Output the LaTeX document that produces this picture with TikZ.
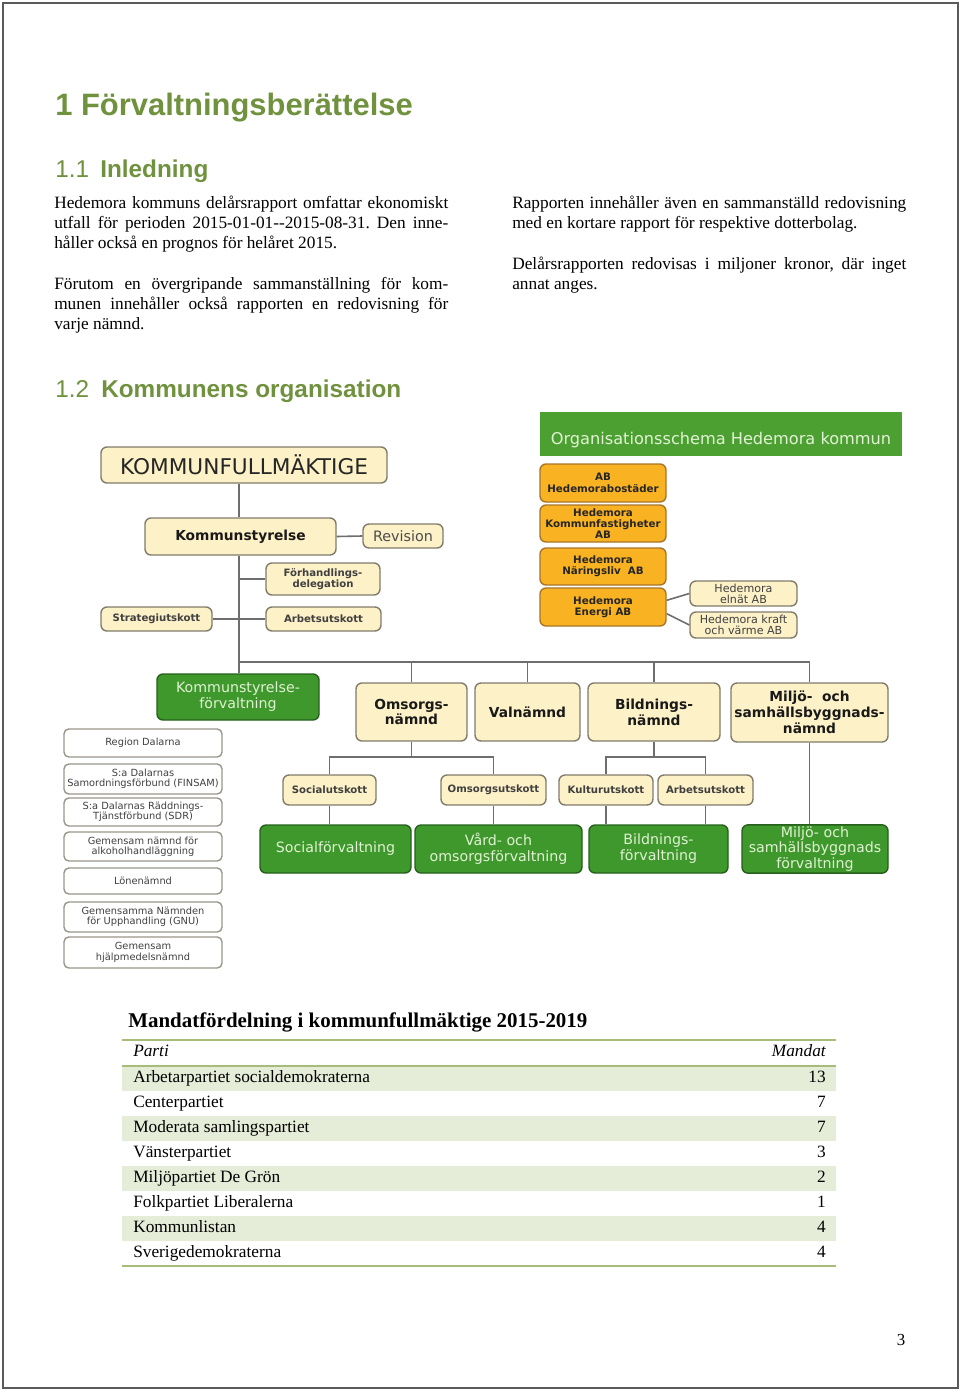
\documentclass[tikz,border=0pt]{standalone}
\usepackage{fontspec}
\setmainfont{Liberation Serif}
\newfontfamily\headfont{Liberation Sans}
\newfontfamily\orgfont{DejaVu Sans}
\usetikzlibrary{positioning}
\newcommand{\setfs}[2]{\fontsize{#1}{#2}\selectfont}
\frenchspacing

\definecolor{headgreen}{RGB}{112,146,62}
\definecolor{creamfill}{RGB}{253,241,199}
\definecolor{creamline}{RGB}{128,124,108}
\definecolor{boxgreen}{RGB}{62,152,44}
\definecolor{boxgreenline}{RGB}{38,96,28}
\definecolor{palegreen}{RGB}{226,242,212}
\definecolor{bargreen}{RGB}{76,160,50}
\definecolor{orgorange}{RGB}{249,178,34}
\definecolor{orgline}{RGB}{168,118,40}
\definecolor{conncol}{RGB}{110,110,110}
\definecolor{rulegreen}{RGB}{168,188,122}
\definecolor{rowshade}{RGB}{229,236,216}
\definecolor{pageline}{RGB}{90,90,90}

\tikzset{sz/.style 2 args={minimum width=#1*0.25mm, minimum height=#2*0.25mm}}

\begin{document}
\begin{tikzpicture}[x=0.25mm, y=-0.25mm,
  body/.style={anchor=base west, inner sep=0pt, text width=98.5mm,
    align=justify, font=\setfs{12.3}{14.43}},
  heading/.style={anchor=base west, inner sep=0pt, text=headgreen},
  cream/.style={draw=creamline, fill=creamfill, line width=0.35mm,
    rounded corners=1.5mm, align=center, inner sep=1pt},
  nbox/.style={cream, font=\orgfont\bfseries\setfs{9.8}{11.2}, text=black!90},
  ubox/.style={cream, font=\orgfont\bfseries\setfs{7.2}{8.2}, text=black!75},
  gbox/.style={draw=boxgreenline, fill=boxgreen, line width=0.35mm,
    rounded corners=1.5mm, align=center, inner sep=1pt, text=palegreen,
    font=\orgfont\setfs{10.1}{11.3}},
  wbox/.style={draw=creamline!80, fill=white, line width=0.35mm,
    rounded corners=1.2mm, align=center, inner sep=0pt, text=black!75,
    font=\orgfont\setfs{7}{7.4}},
  obox/.style={draw=orgline, fill=orgorange, line width=0.35mm,
    rounded corners=1.5mm, align=center, inner sep=0pt, text=black!85,
    font=\orgfont\bfseries\setfs{7.3}{8.1}},
  bar/.style={fill=bargreen, inner sep=0pt, text=palegreen,
    text height=18pt, text depth=2.5pt, font=\orgfont\setfs{11.5}{13}},
  conn/.style={draw=conncol, line width=0.4mm},
  tabrule/.style={draw=rulegreen, line width=0.5mm},
  cell/.style={anchor=base west, inner sep=0pt, font=\setfs{12.3}{14}},
  seats/.style={anchor=base east, inner sep=0pt, font=\setfs{12.3}{14}}]
\useasboundingbox (0,0) rectangle (960,1390);
\fill[white] (0,0) rectangle (960,1390);
\draw[pageline, line width=0.5mm] (3,3) rectangle (957.5,1388);

% headings and text
\node[heading, font=\headfont\bfseries\setfs{22}{26}] (h1) at (55,115)
  {1 Förvaltningsberättelse};
\node[heading, font=\headfont\setfs{17.3}{20}] (h11no) at (55,177) {1.1};
\node[heading, font=\headfont\bfseries\setfs{17.3}{20}] (h11) at (100,177)
  {Inledning};
\node[body] (introa) at (54,208)
  {Hedemora kommuns delårsrapport omfattar ekonomiskt\linebreak
  utfall för perioden 2015-01-01-{}-2015-08-31. Den inne-\linebreak
  håller också en prognos för helåret 2015.};
\node[body] (introb) at (54,289)
  {Förutom en övergripande sammanställning för kom-\linebreak
  munen innehåller också rapporten en redovisning för\linebreak
  varje nämnd.};
\node[body] (introc) at (512,208)
  {Rapporten innehåller även en sammanställd redovisning\linebreak
  med en kortare rapport för respektive dotterbolag.};
\node[body] (introd) at (512,269)
  {Delårsrapporten redovisas i miljoner kronor, där inget\linebreak
  annat anges.};
\node[heading, font=\headfont\setfs{17.3}{20}] (h12no) at (55,397) {1.2};
\node[heading, font=\headfont\bfseries\setfs{17.3}{20}] (h12) at (101,397)
  {Kommunens organisation};

% organisation chart
\node[bar, sz={362}{44}] (orgtitle) at (721,434)
  {Organisationsschema Hedemora kommun};
\node[cream, sz={286}{36}, font=\orgfont\setfs{15.4}{17}, text=black!85] (kf)
  at (244,465) {KOMMUNFULLMÄKTIGE};
\node[nbox, sz={191}{37}] (ks) at (240.5,536.5) {Kommunstyrelse};
\node[cream, sz={80}{24}, font=\orgfont\setfs{10.2}{12}, text=black!70] (rev)
  at (403,536) {Revision};
\node[ubox, sz={114}{32}] (fd) at (323,579) {Förhandlings-\\delegation};
\node[ubox, sz={111}{24}] (su) at (156.5,619) {Strategiutskott};
\node[ubox, sz={115}{24}] (au) at (323.5,619) {Arbetsutskott};

\node[gbox, sz={162}{46}] (ksf) at (238,697) {Kommunstyrelse-\\förvaltning};
\node[nbox, sz={111}{58}] (on) at (411.5,712) {Omsorgs-\\nämnd};
\node[nbox, sz={105}{58}] (vn) at (527.5,712) {Valnämnd};
\node[nbox, sz={132}{58}] (bn) at (654,712) {Bildnings-\\nämnd};
\node[nbox, sz={157}{59}] (mn) at (809.5,712.5)
  {Miljö-~ och\\samhällsbyggnads-\\nämnd};

\node[ubox, sz={93}{30}] (sou) at (329.5,790) {Socialutskott};
\node[ubox, sz={105}{30}] (ou) at (493.5,790) {Omsorgsutskott};
\node[ubox, sz={94}{30}] (ku) at (606,790) {Kulturutskott};
\node[ubox, sz={95}{30}] (bau) at (705.5,790) {Arbetsutskott};

\node[gbox, sz={151}{48}] (sf) at (335.5,849) {Socialförvaltning};
\node[gbox, sz={167}{48}] (vf) at (498.5,849) {Vård- och\\omsorgsförvaltning};
\node[gbox, sz={139}{48}] (bf) at (658.5,849) {Bildnings-\\förvaltning};
\node[gbox, sz={146}{48}] (mf) at (815,849)
  {Miljö- och\\samhällsbyggnads\\förvaltning};

\node[wbox, sz={158}{28}] (rd) at (143,743) {Region Dalarna};
\node[wbox, sz={158}{30}] (finsam) at (143,779)
  {S:a Dalarnas\\Samordningsförbund (FINSAM)};
\node[wbox, sz={158}{28}] (sdr) at (143,812)
  {S:a Dalarnas Räddnings-\\Tjänstförbund (SDR)};
\node[wbox, sz={158}{29}] (alko) at (143,846.5)
  {Gemensam nämnd för\\alkoholhandläggning};
\node[wbox, sz={158}{26}] (lon) at (143,881) {Lönenämnd};
\node[wbox, sz={158}{30}] (gnu) at (143,917)
  {Gemensamma Nämnden\\för Upphandling (GNU)};
\node[wbox, sz={158}{31}] (hjm) at (143,952.5)
  {Gemensam\\hjälpmedelsnämnd};

\node[obox, sz={126}{38}] (hb) at (603,483) {AB\\Hedemorabostäder};
\node[obox, sz={126}{37}] (hkf) at (603,523.5)
  {Hedemora\\Kommunfastigheter\\AB};
\node[obox, sz={126}{37}] (hn) at (603,566.5) {Hedemora\\Näringsliv~ AB};
\node[obox, sz={126}{38}] (he) at (603,607) {Hedemora\\Energi AB};
\node[cream, sz={107}{25}, inner sep=0pt, font=\orgfont\setfs{7.9}{8},
  text=black!75] (el) at (743.5,593.5) {Hedemora\\elnät AB};
\node[cream, sz={107}{26}, inner sep=0pt, font=\orgfont\setfs{7.9}{8},
  text=black!75] (kv) at (743.5,625) {Hedemora kraft\\och värme AB};

\coordinate (bus) at (239,662);
\coordinate (obus) at (411.5,757);
\coordinate (bbus) at (654,757);
\draw[conn] (kf.south -| bus) -- (ks.north -| bus);
\draw[conn] (ks.south -| bus) -- (bus) -- (mn.north |- bus);
\draw[conn] (bus) -- (ksf.north -| bus);
\draw[conn] (on.north |- bus) -- (on.north);
\draw[conn] (vn.north |- bus) -- (vn.north);
\draw[conn] (bn.north |- bus) -- (bn.north);
\draw[conn] (mn.north |- bus) -- (mn.north);
\draw[conn] (ks.east) -- (rev.west);
\draw[conn] (fd.west -| bus) -- (fd.west);
\draw[conn] (su.east) -- (au.west);
\draw[conn] (on.south) -- (obus);
\draw[conn] (sou.north) |- (obus) -| (ou.north);
\draw[conn] (bn.south) -- (bbus);
\draw[conn] (ku.north) |- (bbus) -| (bau.north);
\draw[conn] (sou.south) -- (sou.south |- sf.north);
\draw[conn] (ou.south) -- (ou.south |- vf.north);
\draw[conn] (ku.south) -- (ku.south |- bf.north);
\draw[conn] (bau.south) -- (bau.south |- bf.north);
\draw[conn] (mn.south) -- (mn.south |- mf.north);
\draw[conn] (he.6) -- (el.west);
\draw[conn] (he.-6) -- (kv.west);

% seat table
\node[anchor=base west, inner sep=0pt, font=\bfseries\setfs{14.9}{17}] (tabtitle)
  at (128,1027) {Mandatfördelning i kommunfullmäktige 2015-2019};
\fill[rowshade] (122,1066) rectangle (836,1091);
\fill[rowshade] (122,1116) rectangle (836,1141);
\fill[rowshade] (122,1166) rectangle (836,1191);
\fill[rowshade] (122,1216) rectangle (836,1241);
\draw[tabrule] (122,1040) -- (836,1040);
\draw[tabrule] (122,1066) -- (836,1066);
\draw[tabrule] (122,1266) -- (836,1266);
\node[cell, font=\itshape\setfs{12.3}{14}] (hparti) at (133,1056) {Parti};
\node[seats, font=\itshape\setfs{12.3}{14}] (hmandat) at (826,1056) {Mandat};
\node[cell] (pa) at (133,1082) {Arbetarpartiet socialdemokraterna};
\node[seats] (sa) at (826,1082) {13};
\node[cell] (pb) at (133,1107) {Centerpartiet};
\node[seats] (sb) at (826,1107) {7};
\node[cell] (pc) at (133,1132) {Moderata samlingspartiet};
\node[seats] (sc) at (826,1132) {7};
\node[cell] (pd) at (133,1157) {Vänsterpartiet};
\node[seats] (sd) at (826,1157) {3};
\node[cell] (pe) at (133,1182) {Miljöpartiet De Grön};
\node[seats] (se) at (826,1182) {2};
\node[cell] (pf) at (133,1207) {Folkpartiet Liberalerna};
\node[seats] (sf2) at (826,1207) {1};
\node[cell] (pg) at (133,1232) {Kommunlistan};
\node[seats] (sg) at (826,1232) {4};
\node[cell] (ph) at (133,1257) {Sverigedemokraterna};
\node[seats] (sh) at (826,1257) {4};

\node[anchor=base, inner sep=0pt, font=\setfs{12}{14}] (pageno) at (901,1345) {3};
\end{tikzpicture}
\end{document}
